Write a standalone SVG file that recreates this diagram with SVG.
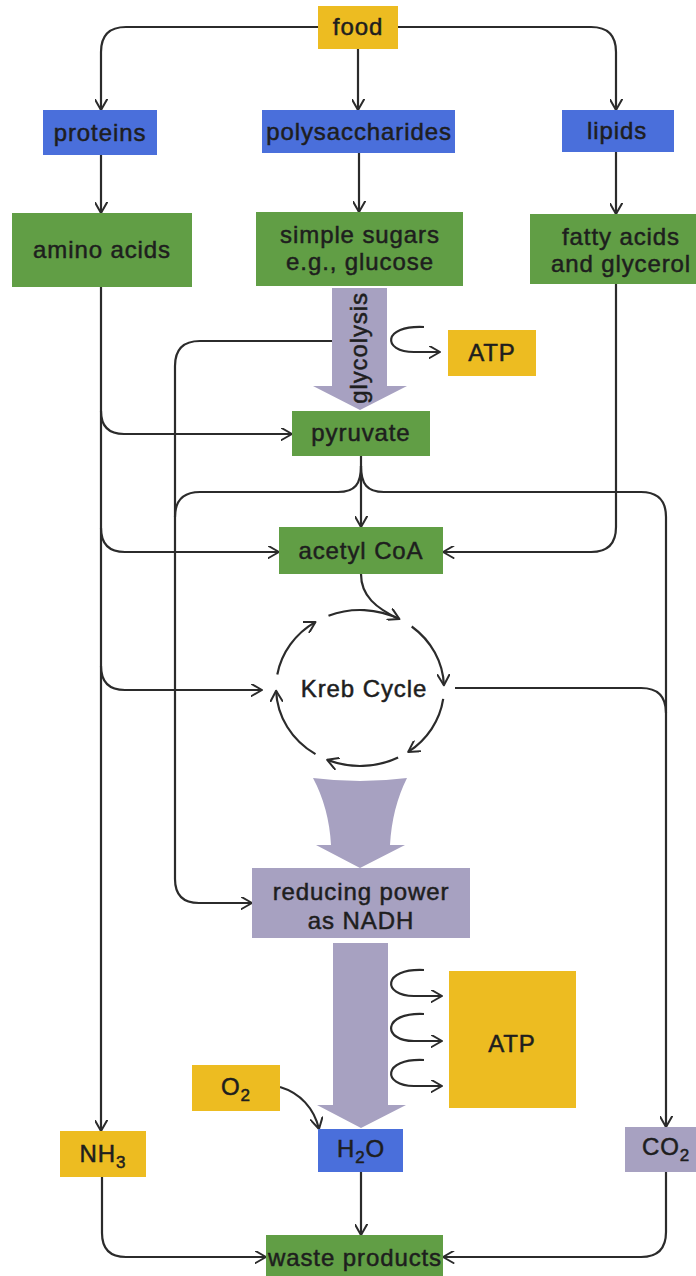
<svg xmlns="http://www.w3.org/2000/svg" width="696" height="1276" viewBox="0 0 696 1276">
<style>
text{font-family:"Liberation Sans",Arial,sans-serif;font-size:24px;letter-spacing:0.9px;fill:#1e1e1e;stroke:#1e1e1e;stroke-width:0.5px;text-anchor:middle}
.y{fill:#EDBC21}.b{fill:#4A6FDB}.g{fill:#619E45}.v{fill:#A7A1C1}
.c{fill:none;stroke:#2b2b2b;stroke-width:2.2;stroke-linejoin:round}
.a{marker-end:url(#arr)}
.sub{font-size:17px}
</style>
<defs>
<marker id="arr" viewBox="0 0 13 13" refX="11.5" refY="6.5" markerWidth="13" markerHeight="13" markerUnits="userSpaceOnUse" orient="auto">
<path d="M1,0.5 L11.5,6.5 L1,12.5" fill="none" stroke="#2b2b2b" stroke-width="2" stroke-linejoin="round" stroke-linecap="round"/>
</marker>
</defs>
<rect width="696" height="1276" fill="#fff"/>
<g id="connectors">
<path class="c a" d="M318,27 H126 Q101,27 101,52 V110"/>
<path class="c a" d="M358,49 V110"/>
<path class="c a" d="M398,27 H591 Q616,27 616,52 V110"/>
<path class="c a" d="M101,155 V213"/>
<path class="c a" d="M359,153 V212"/>
<path class="c a" d="M616,152 V214"/>
<path class="c a" d="M101,287 V1131"/>
<path class="c a" d="M101,411 Q101,434 124,434 H292"/>
<path class="c a" d="M101,528 Q101,552 125,552 H279"/>
<path class="c a" d="M101,666 Q101,690 125,690 H262"/>
<path class="c a" d="M332,341 H200 Q175,341 175,366 V879 Q175,903 199,903 H252"/>
<path class="c a" d="M361,456 V527"/>
<path class="c" d="M361,466 C361,484 355,492 338,492 H200 Q175,492 175,517"/>
<path class="c a" d="M361,466 C361,484 367,492 384,492 H641 Q666,492 666,517 V1127"/>
<path class="c a" d="M616,284 V527 Q616,552 591,552 H443"/>
<path class="c" d="M455,688 H641 Q666,688 666,713"/>
<path class="c" d="M361,574 C361,596 376,608 399,619"/>
<path class="c a" d="M328.5,615.7 A84,78 0 0 1 399.4,619.1"/>
<path class="c a" d="M411.7,626.5 A84,78 0 0 1 443.9,685.3"/>
<path class="c a" d="M443.2,698.9 A84,78 0 0 1 408.2,751.9"/>
<path class="c a" d="M398.1,757.5 A84,78 0 0 1 327.2,759.8"/>
<path class="c a" d="M315.5,754.1 A84,78 0 0 1 276.1,690.7"/>
<path class="c a" d="M277.3,674.5 A84,78 0 0 1 315.5,621.9"/>
<path class="c a" d="M424,327 C382,325 382,352 414,352 H440"/>
<path class="c a" d="M424,970 C382,968 382,996 414,996 H442"/>
<path class="c a" d="M424,1014 C382,1012 382,1041 414,1041 H442"/>
<path class="c a" d="M424,1060 C382,1058 382,1086 414,1086 H442"/>
<path class="c a" d="M280,1087 C300,1093 314,1108 319,1129"/>
<path class="c a" d="M102,1177 V1233 Q102,1257 126,1257 H266"/>
<path class="c a" d="M361,1172 V1235"/>
<path class="c a" d="M666,1172 V1232 Q666,1257 641,1257 H443"/>
</g>
<g id="glycolysis">
<path class="v" d="M332,288 H387 V386 H407 L360,410 L313,386 H332 Z"/>
<text transform="translate(367,348) rotate(-90)">glycolysis</text>
</g>
<g id="kreb-to-nadh">
<path class="v" d="M313,778 Q360,784 407,778 Q392,808 390,845 L405,845 L360,868 L316,845 L331,845 Q329,808 313,778 Z"/>
</g>
<g id="nadh-to-water">
<path class="v" d="M333,943 H388 V1105 H406 L361,1128 L317,1105 H333 Z"/>
</g>
<g id="food"><rect class="y" x="318" y="6" width="80" height="43"/><text x="358" y="35">food</text></g>
<g id="proteins"><rect class="b" x="43" y="110" width="114" height="45"/><text x="100" y="141">proteins</text></g>
<g id="polysaccharides"><rect class="b" x="262" y="110" width="193" height="43"/><text x="359" y="140">polysaccharides</text></g>
<g id="lipids"><rect class="b" x="562" y="110" width="112" height="42"/><text x="617" y="139">lipids</text></g>
<g id="amino-acids"><rect class="g" x="12" y="213" width="180" height="74"/><text x="102" y="258">amino acids</text></g>
<g id="simple-sugars"><rect class="g" x="256" y="212" width="207" height="74"/><text x="360" y="243">simple sugars</text><text x="360" y="270">e.g., glucose</text></g>
<g id="fatty-acids"><rect class="g" x="530" y="214" width="166" height="70"/><text x="621" y="245">fatty acids</text><text x="621" y="272">and glycerol</text></g>
<g id="atp-glycolysis"><rect class="y" x="448" y="330" width="88" height="46"/><text x="492" y="361">ATP</text></g>
<g id="pyruvate"><rect class="g" x="292" y="411" width="138" height="45"/><text x="361" y="441">pyruvate</text></g>
<g id="acetyl-coa"><rect class="g" x="279" y="527" width="164" height="47"/><text x="361" y="559">acetyl CoA</text></g>
<g id="kreb-cycle"><text x="364" y="697">Kreb Cycle</text></g>
<g id="nadh"><rect class="v" x="252" y="868" width="218" height="70"/><text x="361" y="900">reducing power</text><text x="361" y="929">as NADH</text></g>
<g id="atp-oxidative"><rect class="y" x="449" y="971" width="127" height="137"/><text x="512" y="1052">ATP</text></g>
<g id="o2"><rect class="y" x="192" y="1065" width="88" height="46"/><text x="236" y="1095">O<tspan class="sub" dy="6">2</tspan></text></g>
<g id="nh3"><rect class="y" x="60" y="1131" width="86" height="46"/><text x="103" y="1162">NH<tspan class="sub" dy="6">3</tspan></text></g>
<g id="h2o"><rect class="b" x="318" y="1129" width="85" height="43"/><text x="361" y="1157">H<tspan class="sub" dy="6">2</tspan><tspan dy="-6">O</tspan></text></g>
<g id="co2"><rect class="v" x="625" y="1127" width="71" height="45"/><text x="666" y="1155">CO<tspan class="sub" dy="6">2</tspan></text></g>
<g id="waste-products"><rect class="g" x="266" y="1235" width="177" height="41"/><text x="355" y="1266">waste products</text></g>
</svg>
